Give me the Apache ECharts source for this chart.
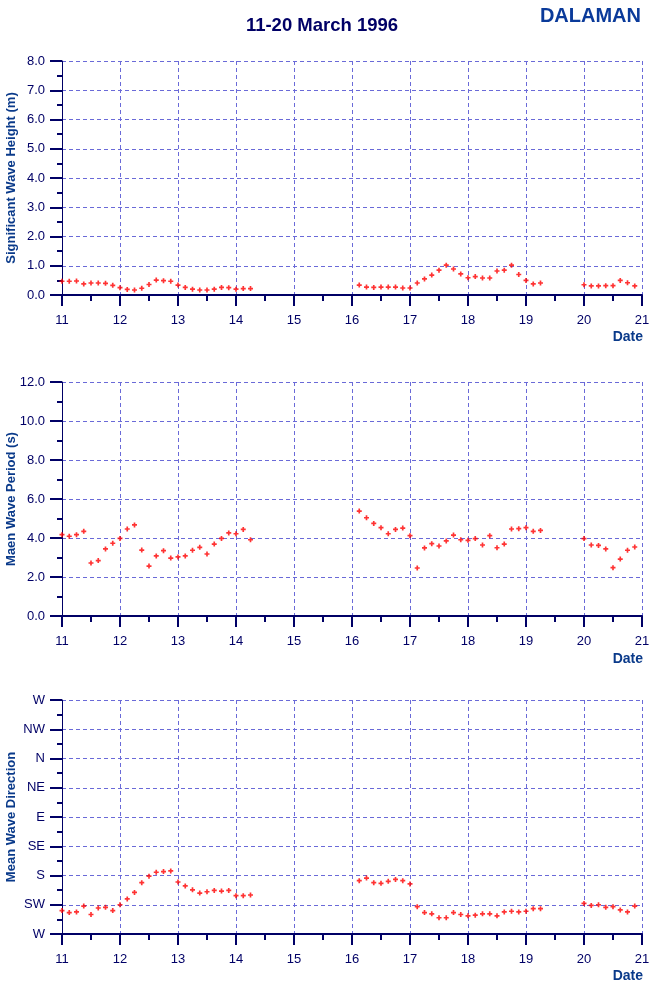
<!DOCTYPE html>
<html><head><meta charset="utf-8">
<script src="https://cdn.jsdelivr.net/npm/echarts@6/dist/echarts.min.js"></script>
<style>html,body{margin:0;padding:0;background:#fff}#c{width:650px;height:986px}</style>
</head><body><div id="c"></div>
<script>
// Time in days (March 1996), 3-hourly observations
var time = [
 11.000,11.125,11.250,11.375,11.500,11.625,11.750,11.875,
 12.000,12.125,12.250,12.375,12.500,12.625,12.750,12.875,
 13.000,13.125,13.250,13.375,13.500,13.625,13.750,13.875,
 14.000,14.125,14.250,
 16.125,16.250,16.375,16.500,16.625,16.750,16.875,
 17.000,17.125,17.250,17.375,17.500,17.625,17.750,17.875,
 18.000,18.125,18.250,18.375,18.500,18.625,18.750,18.875,
 19.000,19.125,19.250,
 20.000,20.125,20.250,20.375,20.500,20.625,20.750,20.875
];
// Significant wave height (m)
var waveHeight = [
 0.47,0.47,0.48,0.38,0.41,0.41,0.40,0.33,0.25,0.19,0.17,0.23,0.36,0.51,0.49,0.47,
 0.34,0.26,0.20,0.17,0.17,0.20,0.26,0.25,0.20,0.22,0.22,
 0.34,0.27,0.26,0.27,0.27,0.27,0.24,0.24,0.41,0.55,0.68,0.85,1.02,0.89,0.72,
 0.59,0.63,0.58,0.58,0.82,0.85,1.02,0.70,0.50,0.38,0.41,
 0.35,0.31,0.31,0.32,0.32,0.50,0.42,0.31
];
// Mean wave period (s)
var wavePeriod = [
 4.17,4.09,4.17,4.34,2.72,2.84,3.44,3.73,3.98,4.46,4.67,3.38,2.56,3.08,3.35,2.97,
 3.03,3.08,3.37,3.52,3.18,3.69,3.98,4.26,4.22,4.44,3.91,
 5.38,5.04,4.75,4.53,4.22,4.44,4.51,4.12,2.46,3.49,3.71,3.59,3.85,4.15,3.91,
 3.88,3.97,3.64,4.12,3.50,3.69,4.46,4.48,4.53,4.34,4.39,
 3.97,3.64,3.62,3.44,2.48,2.92,3.37,3.54
];
// Mean wave direction (degrees, coming from)
var waveDirection = [
 234,237,236,227,240,230,229,234,225,216,206,191,181,175,174,173,
 190,196,202,207,205,203,204,203,211,211,210,
 188,184,191,192,189,186,188,193,228,237,239,245,245,237,240,
 242,241,239,239,242,236,235,236,235,231,231,
 223,226,225,229,228,233,236,227
];
var dirTicks = [-90,-45,0,45,90,135,180,225,270];
var dirLabels = ['W','NW','N','NE','E','SE','S','SW','W'];

function pairs(v){ return time.map(function(t,i){ return [t, v[i]]; }); }

var navy = '#000066';
var nameBlue = '#0a3a8a';
var gridCol = '#6a6ad8';
var font = 'Liberation Sans, Arial, sans-serif';
var grids = [
  {left:62, right:8, top:61, height:234, outerBoundsMode:'none', containLabel:false},
  {left:62, right:8, top:382, height:234, outerBoundsMode:'none', containLabel:false},
  {left:62, right:8, top:700, height:234, outerBoundsMode:'none', containLabel:false}
];
function xAxis(i){
  return {
    type:'value', gridIndex:i, min:11, max:21, interval:1,
    axisLine:{show:true, onZero:false, lineStyle:{color:navy, width:2}},
    axisTick:{show:true, length:11, inside:false, lineStyle:{color:navy, width:2}},
    minorTick:{show:true, splitNumber:2, length:6, lineStyle:{color:navy, width:2}},
    axisLabel:{color:navy, fontSize:13, fontFamily:font, margin:19},
    splitLine:{show:true, lineStyle:{color:gridCol, type:[4,3], width:1}}
  };
}
function yAxis(i, o){
  return {
    type:'value', gridIndex:i, min:o.min, max:o.max, interval:o.interval, inverse:!!o.inverse,
    name:o.name, nameLocation:'middle', nameGap:44, nameMoveOverlap:false,
    nameTextStyle:{color:nameBlue, fontWeight:'bold', fontSize:13, fontFamily:font},
    axisLine:{show:true, lineStyle:{color:navy, width:1}},
    axisTick:{show:true, length:12, lineStyle:{color:navy, width:2}},
    minorTick:{show:true, splitNumber:2, length:5, lineStyle:{color:navy, width:2}},
    axisLabel:{color:navy, fontSize:13, fontFamily:font, margin:17, formatter:o.fmt},
    splitLine:{show:true, lineStyle:{color:gridCol, type:[4,3], width:1}}
  };
}
var plus = 'path://M1,0H2V1H3V2H2V3H1V2H0V1H1Z';
function series(i, v){
  return {type:'scatter', xAxisIndex:i, yAxisIndex:i, data:pairs(v), symbol:plus, symbolSize:5,
    itemStyle:{color:'#ff0000'}, silent:true, animation:false};
}
var chart = echarts.init(document.getElementById('c'), null, {renderer:'canvas'});
chart.setOption({
  animation:false,
  backgroundColor:'#ffffff',
  title:[
    {text:'11-20 March 1996', left:317, top:11, textAlign:'center',
     textStyle:{color:navy, fontSize:18.5, fontWeight:'bold', fontFamily:font}},
    {text:'DALAMAN', right:4, top:1,
     textStyle:{color:'#0a3a9a', fontSize:20, fontWeight:'bold', fontFamily:font}}
  ],
  grid:grids,
  xAxis:[xAxis(0), xAxis(1), xAxis(2)],
  yAxis:[
    yAxis(0,{min:0,max:8,interval:1,name:'Significant Wave Height (m)',fmt:function(v){return v.toFixed(1);}}),
    yAxis(1,{min:0,max:12,interval:2,name:'Maen Wave Period (s)',fmt:function(v){return v.toFixed(1);}}),
    yAxis(2,{min:-90,max:270,interval:45,inverse:true,name:'Mean Wave Direction',
      fmt:function(v){var k=dirTicks.indexOf(v);return k>=0?dirLabels[k]:'';}})
  ],
  graphic:[
    {type:'text', right:7, top:330, style:{text:'Date', fill:nameBlue, font:'bold 14px '+font}},
    {type:'text', right:7, top:652, style:{text:'Date', fill:nameBlue, font:'bold 14px '+font}},
    {type:'text', right:7, top:969, style:{text:'Date', fill:nameBlue, font:'bold 14px '+font}}
  ],
  series:[series(0,waveHeight), series(1,wavePeriod), series(2,waveDirection)]
});
</script></body></html>
